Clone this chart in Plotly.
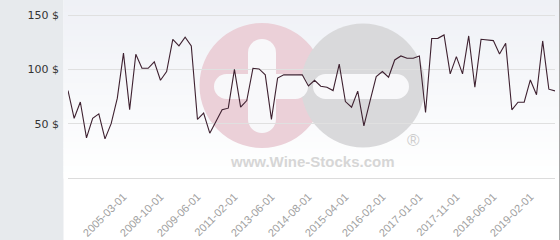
import plotly.graph_objects as go

# ---- data ----
prices = [80.5, 55, 70, 37, 55, 59, 36, 50, 73.5, 115,
          63, 114, 101, 101, 107, 90, 98, 127.7, 121.6, 129.6,
          121.6, 54, 59.7, 41.3, 52, 62.8, 64.3, 100, 65.2, 71.3,
          101, 100.4, 95, 54, 92, 95, 95, 95, 95, 84.8,
          90, 84.5, 83.6, 80.5, 104.8, 70.4, 65.2, 80, 48, 71,
          93.4, 98, 92.8, 108.7, 112.4, 110.3, 110.3, 112.4, 60.3, 128.4,
          128.6, 131.7, 95.9, 111.8, 95.9, 130.8, 83.6, 127.7, 127.1, 126.5,
          114.2, 124, 62.8, 69.8, 69.8, 90.3, 76.6, 126.2, 81.8, 80.2]
tick_index = [9, 15, 21, 27, 33, 39, 45, 51, 57, 63, 69, 75]
tick_labels = ["2005-03-01", "2008-10-01", "2009-06-01", "2011-02-01",
               "2013-06-01", "2014-08-01", "2015-04-01", "2016-02-01",
               "2017-01-01", "2017-11-01", "2018-06-01", "2019-02-01"]
y_ticks = [50, 100, 150]
y_labels = ["50 $", "100 $", "150 $"]

W, H = 560, 240
L, R, T, B = 68, 5, 0, 62
PW, PH = W - L - R, H - T - B


def px(x):
    return (x - L) / PW


def py(y):
    return (H - B - y) / PH


shapes = []
# left grey panel
shapes.append(dict(type="rect", xref="paper", yref="paper", x0=px(-2), x1=px(63.5),
                   y0=py(242), y1=py(-2), fillcolor="#e7eaed", line_width=0, layer="below"))
# gradient background
n = 30
for i in range(n):
    t = i / (n - 1)
    c0 = (239, 241, 246)
    col = tuple(round(c0[k] + (255 - c0[k]) * t) for k in range(3))
    ya = 178 * i / n
    yb = 178 * (i + 1) / n + 0.6
    shapes.append(dict(type="rect", xref="paper", yref="paper", x0=px(63.5), x1=px(559),
                       y0=py(yb), y1=py(ya), fillcolor="rgb(%d,%d,%d)" % col,
                       line_width=0, layer="below"))
# right border
shapes.append(dict(type="line", xref="paper", yref="paper", x0=px(559.5), x1=px(559.5),
                   y0=py(240), y1=py(0), line=dict(color="#a8a8a8", width=1), layer="below"))


def circle(cx, cy, r, color):
    return dict(type="circle", xref="paper", yref="paper", x0=px(cx - r), x1=px(cx + r),
                y0=py(cy + r), y1=py(cy - r), fillcolor=color, line_width=0, layer="between")


def pill(x0, x1, y0, y1, color, horizontal=True):
    out = []
    if horizontal:
        r = (y1 - y0) / 2
        out.append(dict(type="rect", xref="paper", yref="paper", x0=px(x0 + r), x1=px(x1 - r),
                        y0=py(y1), y1=py(y0), fillcolor=color, line_width=0, layer="between"))
        out.append(circle(x0 + r, (y0 + y1) / 2, r, color))
        out.append(circle(x1 - r, (y0 + y1) / 2, r, color))
    else:
        r = (x1 - x0) / 2
        out.append(dict(type="rect", xref="paper", yref="paper", x0=px(x0), x1=px(x1),
                        y0=py(y1 - r), y1=py(y0 + r), fillcolor=color, line_width=0, layer="between"))
        out.append(circle((x0 + x1) / 2, y0 + r, r, color))
        out.append(circle((x0 + x1) / 2, y1 - r, r, color))
    return out


# watermark logo
shapes.append(circle(262, 85.5, 62.5, "#ebd0d8"))
shapes.append(circle(363, 85.5, 62, "#d9d9db"))
shapes += pill(248, 276, 39, 133, "#f8f8fa", horizontal=False)
shapes += pill(214, 308, 74, 99, "#f8f8fa")
shapes += pill(313, 409, 74, 99, "#f8f8fa")

annotations = [
    dict(xref="paper", yref="paper", x=px(312), y=py(161), text="<b>www.Wine-Stocks.com</b>",
         showarrow=False, font=dict(family="Liberation Sans", size=15, color="#d6d6d6"),
         xanchor="center", yanchor="middle"),
    dict(xref="paper", yref="paper", x=px(413), y=py(140), text="®",
         showarrow=False, font=dict(family="Liberation Sans", size=17, color="#cdcdcd"),
         xanchor="center", yanchor="middle"),
]

fig = go.Figure()
fig.add_trace(go.Scatter(x=list(range(len(prices))), y=prices, mode="lines",
                         line=dict(color="#3e2130", width=1.1), hoverinfo="skip"))

fig.update_layout(
    width=W, height=H, margin=dict(l=L, r=R, t=T, b=B),
    paper_bgcolor="white", plot_bgcolor="rgba(0,0,0,0)",
    showlegend=False, shapes=shapes, annotations=annotations,
    xaxis=dict(range=[0, len(prices) - 1], tickmode="array", tickvals=tick_index,
               ticktext=tick_labels, tickangle=-45, showgrid=False, zeroline=False,
               showline=True, linecolor="#dcdcdc", linewidth=1,
               ticks="", ticklabelstandoff=7,
               tickfont=dict(family="Liberation Sans", size=11, color="#a0a0a0")),
    yaxis=dict(range=[0, 163.9], tickmode="array", tickvals=y_ticks, ticktext=y_labels,
               showgrid=True, gridcolor="#e0e0e0", gridwidth=1, zeroline=False,
               ticks="", ticklabelstandoff=8,
               tickfont=dict(family="DejaVu Sans", size=11, color="#333333")),
)

fig.write_html("out.html")
